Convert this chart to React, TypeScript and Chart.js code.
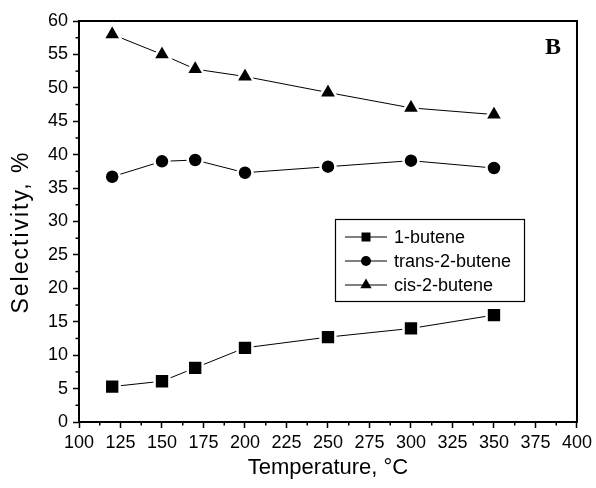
import React, { useEffect, useRef } from "react";
import { Chart, registerables } from "chart.js";

Chart.register(...registerables);

const temperatures = [120, 150, 170, 200, 250, 300, 350];
const butene1 = [5.3, 6.1, 8.1, 11.1, 12.7, 14.0, 16.0];
const trans2butene = [36.7, 39.0, 39.2, 37.3, 38.2, 39.1, 38.0];
const cis2butene = [58.0, 55.0, 52.8, 51.7, 49.3, 47.0, 46.0];
const seriesNames = ["1-butene", "trans-2-butene", "cis-2-butene"];
const seriesMarkers = ["rect", "circle", "triangle"];
const xTitle = "Temperature, °C";
const yTitle = "Selectivity, %";
const panelLabel = "B";

const FONT = "'Liberation Sans', Arial, sans-serif";

function drawMarker(ctx: CanvasRenderingContext2D, style: string, x: number, y: number) {
  ctx.beginPath();
  if (style === "rect") {
    ctx.rect(x - 4.5, y - 4.5, 9, 9);
  } else if (style === "circle") {
    ctx.arc(x, y, 5, 0, Math.PI * 2);
  } else {
    const r = 6.5;
    for (let i = 0; i < 3; i++) {
      const a = (i * 2 * Math.PI) / 3;
      const px = x + Math.sin(a) * r;
      const py = y - Math.cos(a) * r;
      if (i === 0) ctx.moveTo(px, py);
      else ctx.lineTo(px, py);
    }
    ctx.closePath();
  }
  ctx.fill();
}

const decorPlugin = {
  id: "decor",
  beforeDatasetsDraw(chart: any) {
    const { ctx, chartArea: ca, scales } = chart;
    ctx.save();
    ctx.strokeStyle = "#000";
    ctx.lineWidth = 2;
    ctx.strokeRect(ca.left, ca.top, ca.right - ca.left, ca.bottom - ca.top);
    ctx.lineWidth = 1.5;
    const xs = scales.x;
    for (let v = 112.5; v < 400; v += 25) {
      const px = xs.getPixelForValue(v);
      ctx.beginPath();
      ctx.moveTo(px, ca.bottom);
      ctx.lineTo(px, ca.bottom + 3.5);
      ctx.stroke();
    }
    const ys = scales.y;
    for (let v = 2.5; v < 60; v += 5) {
      const py = ys.getPixelForValue(v);
      ctx.beginPath();
      ctx.moveTo(ca.left, py);
      ctx.lineTo(ca.left - 3.5, py);
      ctx.stroke();
    }
    ctx.restore();
  },
  afterDraw(chart: any) {
    const { ctx } = chart;
    ctx.save();
    ctx.strokeStyle = "#000";
    ctx.fillStyle = "#000";
    ctx.lineWidth = 1.2;
    ctx.strokeRect(335.5, 219.5, 189, 82);
    const rows = [237, 261, 285];
    seriesNames.forEach((name, i) => {
      const y = rows[i];
      ctx.lineWidth = 1;
      ctx.beginPath();
      ctx.moveTo(345, y);
      ctx.lineTo(387, y);
      ctx.stroke();
      drawMarker(ctx, seriesMarkers[i], 366, y);
      ctx.font = `18px ${FONT}`;
      ctx.textAlign = "left";
      ctx.textBaseline = "middle";
      ctx.fillText(name, 394, y + 1);
    });
    ctx.font = `bold 24px 'Liberation Serif', 'Times New Roman', serif`;
    ctx.textAlign = "center";
    ctx.textBaseline = "middle";
    ctx.fillText(panelLabel, 553, 48);
    ctx.translate(21.5, 232);
    ctx.rotate(-Math.PI / 2);
    ctx.font = `23px ${FONT}`;
    try {
      (ctx as any).letterSpacing = "2px";
    } catch (e) {}
    ctx.fillText(yTitle, 0, 0);
    ctx.restore();
  },
};

export default function App() {
  const ref = useRef<HTMLCanvasElement | null>(null);
  useEffect(() => {
    if (!ref.current) return;
    const mk = (data: number[]) => temperatures.map((t, i) => ({ x: t, y: data[i] }));
    const common = {
      borderColor: "#000",
      borderWidth: 1,
      backgroundColor: "#000",
      pointBackgroundColor: "#000",
      pointBorderColor: "#fff",
      pointBorderWidth: 2.5,
      showLine: true,
      fill: false,
      tension: 0,
    };
    const chart = new Chart(ref.current, {
      type: "scatter",
      data: {
        datasets: [
          { ...common, label: seriesNames[0], data: mk(butene1), pointStyle: "rect", pointRadius: 10.5 },
          { ...common, label: seriesNames[1], data: mk(trans2butene), pointStyle: "circle", pointRadius: 7.5 },
          { ...common, label: seriesNames[2], data: mk(cis2butene), pointStyle: "triangle", pointRadius: 10.4 },
        ],
      },
      options: {
        animation: false,
        responsive: false,
        devicePixelRatio: 1,
        layout: { padding: { top: 21, right: 16, left: 0, bottom: 0 } },
        plugins: { legend: { display: false }, tooltip: { enabled: false } },
        scales: {
          x: {
            type: "linear",
            min: 100,
            max: 400,
            ticks: {
              stepSize: 25,
              color: "#000",
              font: { size: 18, family: FONT },
              padding: 4,
              maxRotation: 0,
              autoSkip: false,
            },
            grid: { drawOnChartArea: false, tickLength: 6, tickColor: "#000", tickWidth: 1.5 },
            border: { display: false },
            title: {
              display: true,
              text: xTitle,
              color: "#000",
              font: { size: 22, family: FONT },
              padding: { top: 0, bottom: 7 },
            },
            afterFit: (s: any) => {
              s.height = 66;
            },
          },
          y: {
            type: "linear",
            min: 0,
            max: 60,
            ticks: {
              stepSize: 5,
              color: "#000",
              font: { size: 18, family: FONT },
              padding: 5,
            },
            grid: { drawOnChartArea: false, tickLength: 6, tickColor: "#000", tickWidth: 1.5 },
            border: { display: false },
            afterFit: (s: any) => {
              s.width = 79;
            },
          },
        },
      } as any,
      plugins: [decorPlugin],
    });
    return () => chart.destroy();
  }, []);
  return (
    <div style={{ position: "fixed", left: 0, top: 0, width: 596, height: 488, background: "#fff" }}>
      <canvas ref={ref} width={596} height={488} />
    </div>
  );
}
